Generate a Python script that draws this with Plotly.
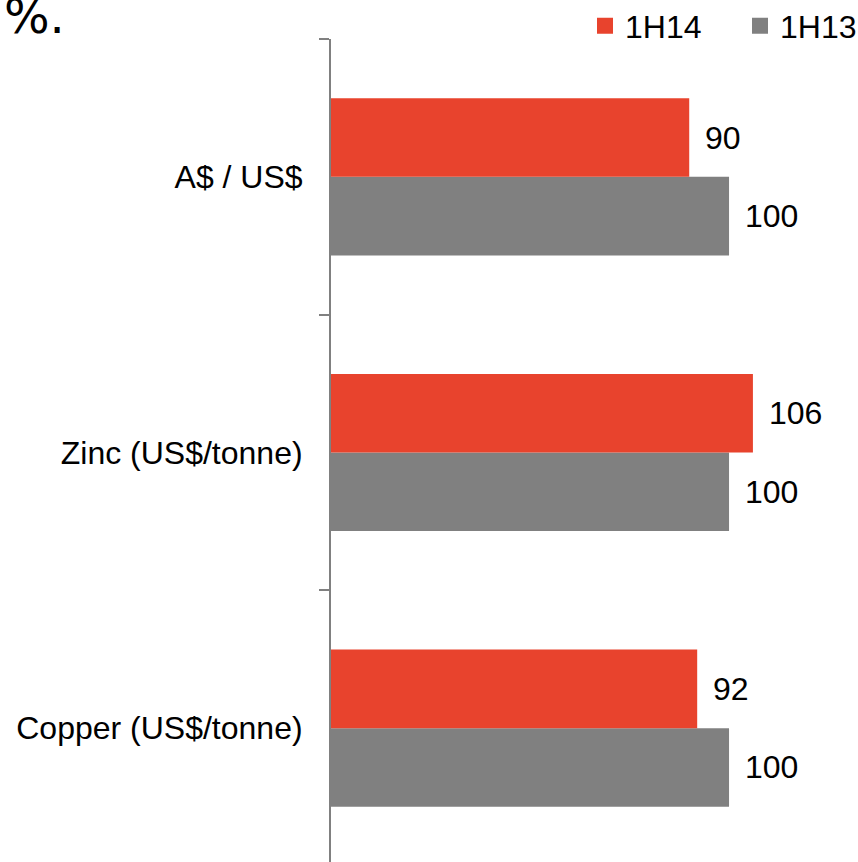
import plotly.graph_objects as go

categories = ["Copper (US$/tonne)", "Zinc (US$/tonne)", "A$ / US$"]
positions = [0, 1, 2]
series_1h14 = [92, 106, 90]
series_1h13 = [100, 100, 100]

RED = "#E8432D"
GRAY = "#808080"
FONT = "Liberation Sans, Arial, sans-serif"
FS = 32

PLOT_L, PLOT_T, W, H = 331, 39, 858, 862
PW, PH = W - PLOT_L, H - PLOT_T

BARGAP = 0.43
bar_half = (1 - BARGAP) / 4  # centre offset of each bar in a pair

fig = go.Figure()
fig.add_trace(go.Bar(
    y=positions, x=series_1h13, orientation="h", name="1H13",
    marker=dict(color=GRAY, line=dict(width=0)), showlegend=False,
))
fig.add_trace(go.Bar(
    y=positions, x=series_1h14, orientation="h", name="1H14",
    marker=dict(color=RED, line=dict(width=0)), showlegend=False,
))
# legend entries with square swatches
for name, col in [("1H14", RED), ("1H13", GRAY)]:
    fig.add_trace(go.Scatter(x=[None], y=[None], mode="markers", name=name,
                             marker=dict(symbol="square", size=16, color=col),
                             showlegend=True))

annotations = []
for p, v in zip(positions, series_1h14):
    annotations.append(dict(x=v, y=p + bar_half, xref="x", yref="y", text=str(v),
                            showarrow=False, xanchor="left", yanchor="middle", xshift=14,
                            font=dict(family=FONT, size=FS, color="#000")))
for p, v in zip(positions, series_1h13):
    annotations.append(dict(x=v, y=p - bar_half, xref="x", yref="y", text=str(v),
                            showarrow=False, xanchor="left", yanchor="middle", xshift=14,
                            font=dict(family=FONT, size=FS, color="#000")))
# cropped title remnant
annotations.append(dict(x=(2 - PLOT_L) / PW, y=1 + (PLOT_T - 46) / PH, xref="paper", yref="paper",
                        text="%.", showarrow=False, xanchor="left", yanchor="bottom",
                        font=dict(family="DejaVu Sans, sans-serif", size=48, color="#000")))

fig.update_layout(
    width=W, height=H,
    margin=dict(l=PLOT_L, r=0, t=PLOT_T, b=0, pad=0, autoexpand=False),
    paper_bgcolor="white", plot_bgcolor="white",
    barmode="group", bargap=BARGAP, bargroupgap=0,
    font=dict(family=FONT, size=FS, color="#000"),
    showlegend=True,
    legend=dict(orientation="h", xref="paper", yref="paper",
                x=(585 - PLOT_L) / PW, xanchor="left",
                y=1 + (PLOT_T - 26) / PH, yanchor="middle",
                font=dict(family=FONT, size=FS, color="#000"),
                itemwidth=30, itemsizing="trace", bgcolor="rgba(0,0,0,0)",
                entrywidth=110, entrywidthmode="pixels",
                traceorder="normal"),
    annotations=annotations,
    xaxis=dict(range=[0, 132.4], showgrid=False, zeroline=False, showline=False,
               showticklabels=False, ticks=""),
    yaxis=dict(range=[-0.4855, 2.5], tickmode="array", tickvals=positions,
               ticktext=categories, showgrid=False, zeroline=False,
               showline=True, linecolor=GRAY, linewidth=2,
               ticks="outside", ticklen=20, tickcolor="rgba(0,0,0,0)",
               minor=dict(tickmode="array", tickvals=[0.5, 1.5, 2.5], ticks="outside",
                          ticklen=10, tickcolor=GRAY, tickwidth=2, showgrid=False),
               tickfont=dict(family=FONT, size=FS, color="#000")),
)

fig.write_html("out.html")
